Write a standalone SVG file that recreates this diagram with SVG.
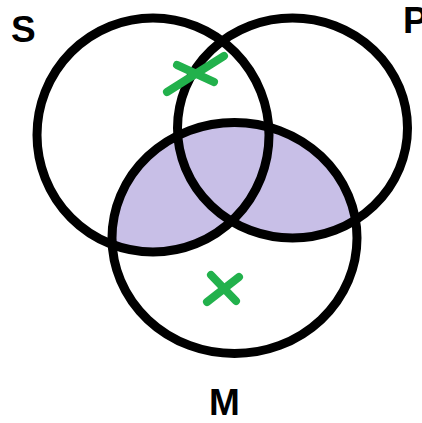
<svg xmlns="http://www.w3.org/2000/svg" width="422" height="423" viewBox="0 0 422 423">
<style>
.ring{fill:none;stroke:#000;stroke-width:9}
.x{stroke:#22b14c;stroke-width:8;stroke-linecap:round;fill:none}
.lbl{font-family:"Liberation Sans",Arial,sans-serif;font-weight:bold;font-size:37px;fill:#000}
</style>
<defs>
<clipPath id="sp">
<ellipse cx="153" cy="135" rx="116" ry="117"/>
<ellipse cx="292.5" cy="128" rx="115" ry="110"/>
</clipPath>
</defs>
<rect width="422" height="423" fill="#fff"/>
<g id="shade">
<ellipse cx="234.5" cy="238" rx="122.5" ry="115.5" fill="#c8bfe7" clip-path="url(#sp)"/>
</g>
<g id="S">
<ellipse class="ring" cx="153" cy="135" rx="116" ry="117"/>
<text class="lbl" x="11" y="42">S</text>
</g>
<g id="P">
<ellipse class="ring" cx="292.5" cy="128" rx="115" ry="110"/>
<text class="lbl" x="403" y="33">P</text>
</g>
<g id="M">
<ellipse class="ring" cx="234.5" cy="238" rx="122.5" ry="115.5"/>
<text class="lbl" x="209" y="415">M</text>
</g>
<g id="marks">
<path class="x" d="M167 92 L224 56 M177 65 L214 82"/>
<path class="x" d="M207 302 L239 277 M211 275 L236 301"/>
</g>
</svg>
